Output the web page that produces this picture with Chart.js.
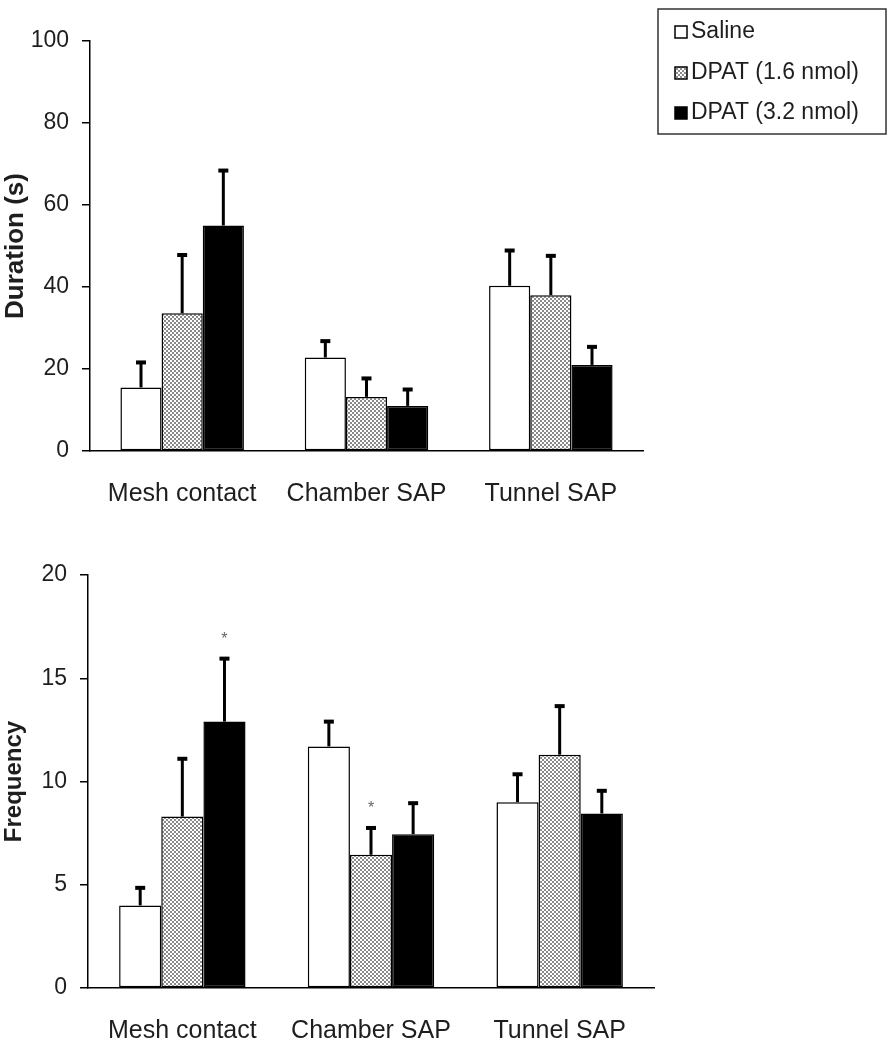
<!DOCTYPE html>
<html>
<head>
<meta charset="utf-8">
<script src="https://cdn.jsdelivr.net/npm/chart.js@4/dist/chart.umd.min.js"></script>
<style>
  html, body { margin: 0; padding: 0; background: #fff; }
  .box { position: absolute; left: 0; width: 890px; }
  #top { top: 0; height: 520px; }
  #bottom { top: 525px; height: 525px; }
</style>
</head>
<body>
<div class="box" id="top"><canvas id="chartDuration"></canvas></div>
<div class="box" id="bottom"><canvas id="chartFrequency"></canvas></div>
<script>
"use strict";

// categorías y series
const categories = ["Mesh contact", "Chamber SAP", "Tunnel SAP"];
const seriesLabels = ["Saline", "DPAT (1.6 nmol)", "DPAT (3.2 nmol)"];

// Duración (s): media y error (SEM, solo hacia arriba)
const durationSaline = [15.5, 22.8, 40.3];
const durationSalineErr = [6.1, 4.0, 8.6];
const durationDpat16 = [33.6, 13.2, 38.0];
const durationDpat16Err = [14.2, 4.5, 9.6];
const durationDpat32 = [55.0, 11.0, 21.0];
const durationDpat32Err = [13.4, 4.0, 4.4];
const durationTicks = [0, 20, 40, 60, 80, 100];

// Frecuencia
const freqSaline = [4.0, 11.7, 9.0];
const freqSalineErr = [0.85, 1.2, 1.35];
const freqDpat16 = [8.3, 6.45, 11.3];
const freqDpat16Err = [2.8, 1.3, 2.35];
const freqDpat32 = [12.9, 7.45, 8.45];
const freqDpat32Err = [3.05, 1.5, 1.1];
const freqTicks = [0, 5, 10, 15, 20];

// asteriscos de significancia
const freqStarsSaline = [false, false, false];
const freqStarsDpat16 = [false, true, false];
const freqStarsDpat32 = [true, false, false];

const FONT = "'Liberation Sans', Arial, sans-serif";
const INK = "#1e1e1e";

function makeDots() {
  const c = document.createElement("canvas");
  c.width = 4; c.height = 4;
  const g = c.getContext("2d");
  g.fillStyle = "#ffffff";
  g.fillRect(0, 0, 4, 4);
  g.fillStyle = "#8a8a8a";
  g.fillRect(0, 0, 2, 2);
  g.fillRect(2, 2, 2, 2);
  return g.createPattern(c, "repeat");
}
const dots = makeDots();
const fills = ["#ffffff", dots, "#000000"];

// Barras de error + asteriscos
const errorBars = {
  id: "errorBars",
  afterDatasetsDraw(chart) {
    const ctx = chart.ctx;
    const y = chart.scales.y;
    ctx.save();
    ctx.strokeStyle = "#000";
    chart.data.datasets.forEach((ds, i) => {
      const meta = chart.getDatasetMeta(i);
      meta.data.forEach((bar, j) => {
        const top = y.getPixelForValue(ds.data[j] + ds.errors[j]);
        ctx.lineWidth = 3;
        ctx.beginPath();
        ctx.moveTo(bar.x, bar.y);
        ctx.lineTo(bar.x, top);
        ctx.stroke();
        ctx.lineWidth = 4;
        ctx.beginPath();
        ctx.moveTo(bar.x - 5, top);
        ctx.lineTo(bar.x + 5, top);
        ctx.stroke();
        if (ds.stars && ds.stars[j]) {
          ctx.fillStyle = "#666";
          ctx.font = "16px " + FONT;
          ctx.textAlign = "center";
          ctx.textBaseline = "middle";
          ctx.fillText("*", bar.x, top - 19);
        }
      });
    });
    ctx.restore();
  },
};

// Leyenda con recuadro (arriba a la derecha)
const boxLegend = {
  id: "boxLegend",
  afterDraw(chart) {
    if (!chart.options.plugins.boxLegend.show) return;
    const ctx = chart.ctx;
    ctx.save();
    ctx.strokeStyle = "#333";
    ctx.lineWidth = 1.5;
    ctx.strokeRect(658, 9, 228, 125);
    const rows = [32, 73, 113];
    chart.data.datasets.forEach((ds, i) => {
      const cy = rows[i];
      ctx.fillStyle = ds.backgroundColor;
      ctx.fillRect(675, cy - 6, 12, 12);
      ctx.lineWidth = 1.5;
      ctx.strokeStyle = "#000";
      ctx.strokeRect(675, cy - 6, 12, 12);
      ctx.fillStyle = INK;
      ctx.font = "23px " + FONT;
      ctx.textAlign = "left";
      ctx.textBaseline = "middle";
      ctx.fillText(ds.label, 691, cy);
    });
    ctx.restore();
  },
};

function buildChart(canvasId, values, errs, stars, ticks, max, title, geom) {
  const datasets = values.map((v, i) => ({
    label: seriesLabels[i],
    data: v,
    errors: errs[i],
    stars: stars ? stars[i] : null,
    backgroundColor: fills[i],
    borderColor: "#000",
    borderWidth: 1.5,
    borderSkipped: false,
    categoryPercentage: 0.67,
    barPercentage: 1.0,
  }));

  return new Chart(document.getElementById(canvasId), {
    type: "bar",
    data: { labels: categories, datasets },
    plugins: [errorBars, boxLegend],
    options: {
      responsive: true,
      maintainAspectRatio: false,
      animation: false,
      layout: { padding: { top: geom.top, right: geom.right, bottom: 0, left: 0 } },
      plugins: {
        legend: { display: false },
        tooltip: { enabled: false },
        boxLegend: { show: geom.legend },
      },
      scales: {
        x: {
          afterFit: (s) => { s.height = geom.xh; },
          grid: { display: false },
          border: { display: true, color: "#000", width: 1.5 },
          ticks: { color: INK, font: { family: FONT, size: 25 }, padding: 20 },
        },
        y: {
          min: 0,
          max: max,
          afterFit: (s) => { s.width = geom.yw; },
          afterBuildTicks: (s) => { s.ticks = ticks.map((t) => ({ value: t })); },
          grid: { drawOnChartArea: false, drawTicks: true, tickLength: 8, color: "#000", lineWidth: 1.5 },
          border: { display: true, color: "#000", width: 1.5 },
          ticks: { color: INK, font: { family: FONT, size: 23 }, padding: 13 },
          title: {
            display: true,
            text: title,
            color: INK,
            font: { family: FONT, size: geom.titleSize, weight: "bold" },
            padding: 0,
          },
        },
      },
    },
  });
}

buildChart(
  "chartDuration",
  [durationSaline, durationDpat16, durationDpat32],
  [durationSalineErr, durationDpat16Err, durationDpat32Err],
  null,
  durationTicks, 100, "Duration (s)",
  { top: 41, right: 247, xh: 69, yw: 90, legend: true, titleSize: 26 }
);

buildChart(
  "chartFrequency",
  [freqSaline, freqDpat16, freqDpat32],
  [freqSalineErr, freqDpat16Err, freqDpat32Err],
  [freqStarsSaline, freqStarsDpat16, freqStarsDpat32],
  freqTicks, 20, "Frequency",
  { top: 50, right: 236, xh: 62, yw: 88, legend: false, titleSize: 24 }
);
</script>
</body>
</html>
